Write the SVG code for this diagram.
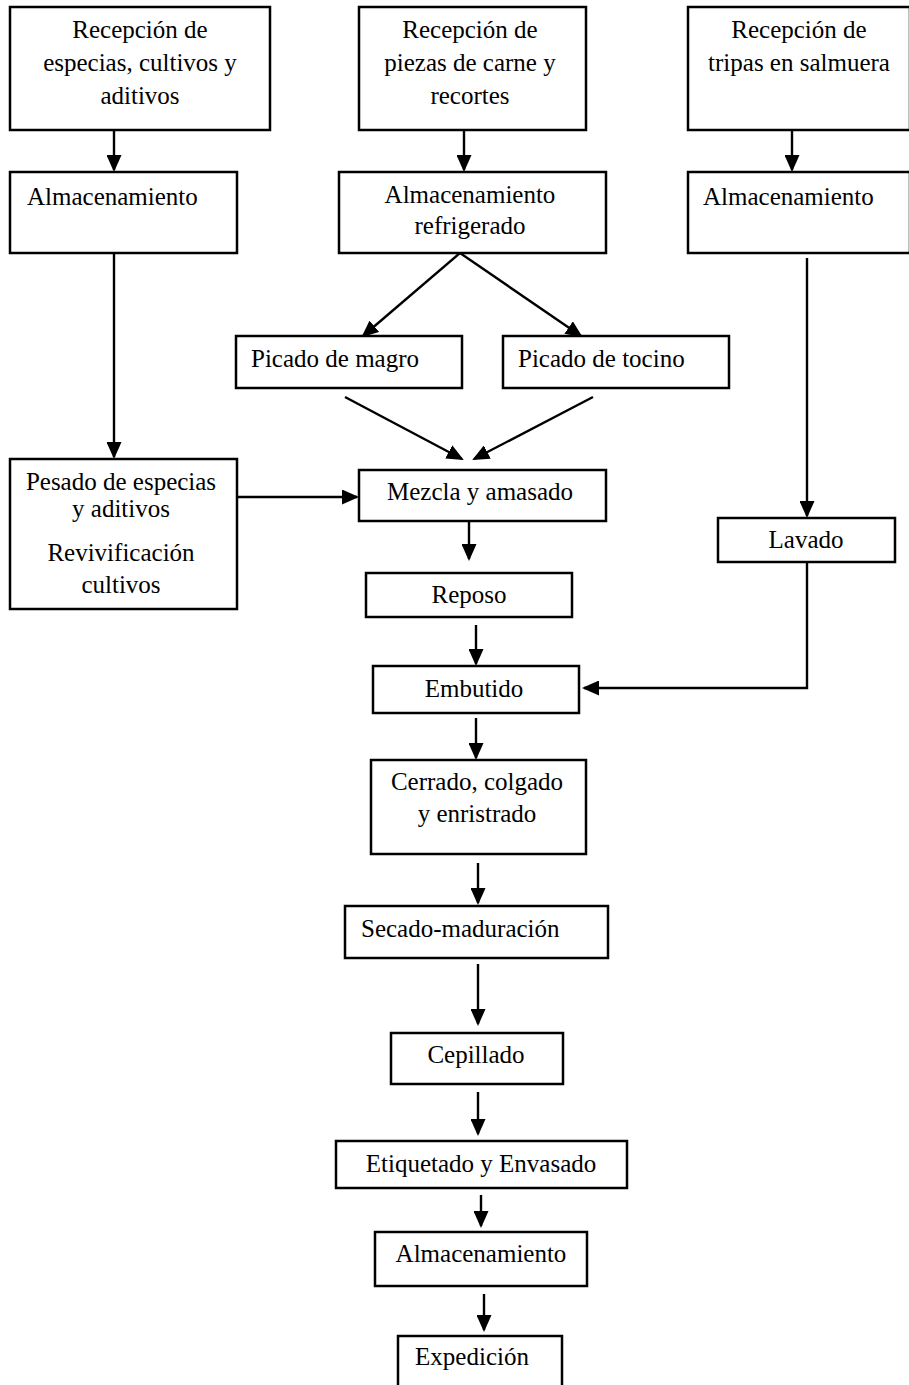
<svg xmlns="http://www.w3.org/2000/svg" width="909" height="1385" viewBox="0 0 909 1385">
<style>
rect.b{fill:#fff;stroke:#000;stroke-width:2.5}
text{font-family:"Liberation Serif","Times New Roman",serif;font-size:25px;fill:#000}
.c{text-anchor:middle}
.e{fill:none;stroke:#000;stroke-width:2.4}
</style>
<defs>
<marker id="ah" viewBox="0 0 17 15" markerWidth="17" markerHeight="15" refX="15" refY="7.5" orient="auto" markerUnits="userSpaceOnUse">
<path d="M0,0 L17,7.5 L0,15 z" fill="#000"/>
</marker>
</defs>
<rect width="909" height="1385" fill="#fff"/>
<g id="connectors">
<path class="e" d="M114,130 V170" marker-end="url(#ah)"/>
<path class="e" d="M464,130 V170" marker-end="url(#ah)"/>
<path class="e" d="M792,130 V170" marker-end="url(#ah)"/>
<path class="e" d="M460,253 L363,336" marker-end="url(#ah)"/>
<path class="e" d="M460,253 L581,336" marker-end="url(#ah)"/>
<path class="e" d="M114,253 V457" marker-end="url(#ah)"/>
<path class="e" d="M807,258 V516" marker-end="url(#ah)"/>
<path class="e" d="M345,397 L462,459" marker-end="url(#ah)"/>
<path class="e" d="M593,397 L474,459" marker-end="url(#ah)"/>
<path class="e" d="M237,497 H357" marker-end="url(#ah)"/>
<path class="e" d="M469,522 V559" marker-end="url(#ah)"/>
<path class="e" d="M476,625 V664" marker-end="url(#ah)"/>
<path class="e" d="M807,562 V688 H584" marker-end="url(#ah)"/>
<path class="e" d="M476,718 V758" marker-end="url(#ah)"/>
<path class="e" d="M478,863 V903" marker-end="url(#ah)"/>
<path class="e" d="M478,964 V1024" marker-end="url(#ah)"/>
<path class="e" d="M478,1092 V1134" marker-end="url(#ah)"/>
<path class="e" d="M481,1195 V1226" marker-end="url(#ah)"/>
<path class="e" d="M484,1294 V1330" marker-end="url(#ah)"/>
</g>
<g id="n1"><rect class="b" x="10" y="7" width="260" height="123"/>
<text class="c" x="140" y="38">Recepción de</text><text class="c" x="140" y="71">especias, cultivos y</text><text class="c" x="140" y="104">aditivos</text></g>
<g id="n2"><rect class="b" x="359" y="7" width="227" height="123"/>
<text class="c" x="470" y="38">Recepción de</text><text class="c" x="470" y="71">piezas de carne y</text><text class="c" x="470" y="104">recortes</text></g>
<g id="n3"><rect class="b" x="688" y="7" width="222" height="123"/>
<text class="c" x="799" y="38">Recepción de</text><text class="c" x="799" y="71">tripas en salmuera</text></g>
<g id="n4"><rect class="b" x="10" y="172" width="227" height="81"/>
<text x="27" y="205">Almacenamiento</text></g>
<g id="n5"><rect class="b" x="339" y="172" width="267" height="81"/>
<text class="c" x="470" y="203">Almacenamiento</text><text class="c" x="470" y="234">refrigerado</text></g>
<g id="n6"><rect class="b" x="688" y="172" width="222" height="81"/>
<text x="703" y="205">Almacenamiento</text></g>
<g id="n7"><rect class="b" x="236" y="336" width="226" height="52"/>
<text x="251" y="367">Picado de magro</text></g>
<g id="n8"><rect class="b" x="503" y="336" width="226" height="52"/>
<text x="518" y="367">Picado de tocino</text></g>
<g id="n9"><rect class="b" x="10" y="459" width="227" height="150"/>
<text class="c" x="121" y="490">Pesado de especias</text><text class="c" x="121" y="517">y aditivos</text><text class="c" x="121" y="561">Revivificación</text><text class="c" x="121" y="593">cultivos</text></g>
<g id="n10"><rect class="b" x="359" y="470" width="247" height="51"/>
<text class="c" x="480" y="500">Mezcla y amasado</text></g>
<g id="n11"><rect class="b" x="718" y="518" width="177" height="44"/>
<text class="c" x="806" y="548">Lavado</text></g>
<g id="n12"><rect class="b" x="366" y="573" width="206" height="44"/>
<text class="c" x="469" y="603">Reposo</text></g>
<g id="n13"><rect class="b" x="373" y="666" width="206" height="47"/>
<text class="c" x="474" y="697">Embutido</text></g>
<g id="n14"><rect class="b" x="371" y="760" width="215" height="94"/>
<text class="c" x="477" y="790">Cerrado, colgado</text><text class="c" x="477" y="822">y enristrado</text></g>
<g id="n15"><rect class="b" x="345" y="906" width="263" height="52"/>
<text x="361" y="937">Secado-maduración</text></g>
<g id="n16"><rect class="b" x="391" y="1033" width="172" height="51"/>
<text class="c" x="476" y="1063">Cepillado</text></g>
<g id="n17"><rect class="b" x="336" y="1141" width="291" height="47"/>
<text class="c" x="481" y="1172">Etiquetado y Envasado</text></g>
<g id="n18"><rect class="b" x="375" y="1232" width="212" height="54"/>
<text class="c" x="481" y="1262">Almacenamiento</text></g>
<g id="n19"><rect class="b" x="398" y="1336" width="164" height="70"/>
<text class="c" x="472" y="1365">Expedición</text></g>
</svg>
